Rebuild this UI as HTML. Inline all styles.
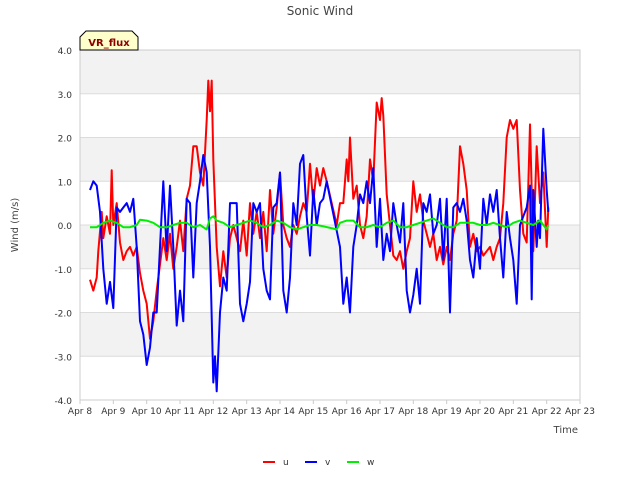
<!DOCTYPE html>
<html><head><meta charset="utf-8"><style>
body{margin:0;background:#fff;font-family:"DejaVu Sans","Liberation Sans",sans-serif;}
</style></head><body>
<svg id="chart" width="640" height="480" xmlns="http://www.w3.org/2000/svg" font-family="DejaVu Sans, Liberation Sans, sans-serif">
<text x="320" y="15" text-anchor="middle" font-size="12" fill="#444">Sonic Wind</text>
<g id="bands"></g><g id="grid"></g><g id="series"></g><g id="axes"></g>
<text transform="translate(18,225) rotate(-90)" text-anchor="middle" font-size="10" fill="#444">Wind (m/s)</text>
<text x="578" y="433" text-anchor="end" font-size="10" fill="#444">Time</text>
<g>
<path d="M80,50 L80,37 L86,31 L132,31 L138,37 L138,50 Z" fill="#ffffcc" stroke="#000" stroke-width="1"/>
<text x="109" y="46" text-anchor="middle" font-size="10" font-weight="bold" fill="#8b0000">VR_flux</text>
</g>
<g id="legend"></g>
</svg>
<script>
const yTicks=[4,3,2,1,0,-1,-2,-3,-4];
const xTickLabels=["Apr 8","Apr 9","Apr 10","Apr 11","Apr 12","Apr 13","Apr 14","Apr 15","Apr 16","Apr 17","Apr 18","Apr 19","Apr 20","Apr 21","Apr 22","Apr 23"];
const uT=[0.3,0.4,0.5,0.55,0.65,0.7,0.8,0.9,0.95,1.0,1.1,1.2,1.3,1.4,1.5,1.6,1.7,1.8,1.9,2.0,2.1,2.2,2.3,2.4,2.5,2.6,2.7,2.8,2.9,3.0,3.1,3.2,3.3,3.4,3.5,3.6,3.7,3.8,3.85,3.9,3.95,4.0,4.1,4.2,4.3,4.4,4.5,4.6,4.7,4.8,4.9,5.0,5.1,5.2,5.3,5.4,5.5,5.6,5.7,5.8,5.9,6.0,6.1,6.2,6.3,6.4,6.5,6.6,6.7,6.8,6.9,7.0,7.1,7.2,7.3,7.4,7.7,7.8,7.9,8.0,8.05,8.1,8.2,8.3,8.4,8.5,8.6,8.7,8.8,8.9,9.0,9.05,9.1,9.2,9.3,9.4,9.5,9.6,9.7,9.8,9.9,10.0,10.1,10.2,10.3,10.4,10.5,10.6,10.7,10.8,10.9,11.0,11.1,11.2,11.3,11.4,11.5,11.6,11.7,11.8,11.9,12.0,12.1,12.2,12.3,12.4,12.5,12.6,12.7,12.8,12.9,13.0,13.1,13.2,13.3,13.4,13.5,13.6,13.7,13.8,13.9,14.0,14.05];
const uV=[-1.25,-1.5,-1.2,-0.6,0.3,-0.3,0.2,-0.2,1.25,0.0,0.5,-0.4,-0.8,-0.6,-0.5,-0.7,-0.5,-1.1,-1.5,-1.8,-2.6,-2.2,-1.5,-0.9,-0.3,-0.8,-0.2,-1.0,-0.5,0.1,-0.6,0.6,0.9,1.8,1.8,1.2,0.9,2.4,3.3,2.6,3.3,1.5,-0.5,-1.4,-0.6,-1.2,-0.3,0.0,-0.3,-0.6,0.1,-0.7,0.5,-0.2,0.3,-0.3,0.3,-0.6,0.8,-0.2,0.4,1.2,0.0,-0.3,-0.5,0.0,-0.2,0.2,0.5,0.3,1.4,0.5,1.3,0.9,1.3,1.0,0.0,0.5,0.5,1.5,1.0,2.0,0.6,0.9,0.0,-0.3,0.2,1.5,1.0,2.8,2.4,2.9,2.5,0.7,0.0,-0.7,-0.8,-0.6,-1.0,-0.6,-0.3,1.0,0.3,0.7,0.1,-0.2,-0.5,-0.2,-0.8,-0.5,-0.9,-0.5,-0.8,-0.2,0.1,1.8,1.4,0.8,-0.5,-0.2,-0.6,-0.5,-0.7,-0.6,-0.5,-0.8,-0.5,-0.3,0.5,2.0,2.4,2.2,2.4,0.8,-0.2,-0.4,2.3,-0.6,1.8,0.5,1.2,-0.5,0.4];
const vT=[0.3,0.4,0.5,0.6,0.7,0.8,0.9,1.0,1.1,1.2,1.3,1.4,1.5,1.6,1.7,1.8,1.9,2.0,2.1,2.2,2.3,2.4,2.5,2.6,2.7,2.8,2.9,3.0,3.1,3.2,3.3,3.4,3.5,3.6,3.7,3.8,3.9,4.0,4.05,4.1,4.2,4.3,4.4,4.5,4.7,4.8,4.9,5.0,5.1,5.2,5.3,5.4,5.5,5.6,5.7,5.8,5.9,6.0,6.1,6.2,6.3,6.4,6.5,6.6,6.7,6.8,6.9,7.0,7.1,7.2,7.3,7.4,7.8,7.9,8.0,8.1,8.2,8.3,8.4,8.5,8.6,8.7,8.8,8.9,9.0,9.1,9.2,9.3,9.4,9.5,9.6,9.7,9.8,9.9,10.0,10.1,10.2,10.3,10.4,10.5,10.6,10.7,10.8,10.9,11.0,11.1,11.2,11.3,11.4,11.5,11.6,11.7,11.8,11.9,12.0,12.1,12.2,12.3,12.4,12.5,12.6,12.7,12.8,12.9,13.0,13.1,13.2,13.3,13.4,13.5,13.55,13.6,13.7,13.75,13.8,13.9,14.0,14.05];
const vV=[0.8,1.0,0.9,0.3,-1.0,-1.8,-1.3,-1.9,0.4,0.3,0.4,0.5,0.3,0.6,-0.5,-2.2,-2.5,-3.2,-2.8,-2.0,-2.0,-0.5,1.0,-0.6,0.9,-0.5,-2.3,-1.5,-2.2,0.6,0.5,-1.2,0.5,1.0,1.6,1.2,-0.5,-3.6,-3.0,-3.8,-2.0,-1.2,-1.5,0.5,0.5,-1.8,-2.2,-1.8,-1.3,0.5,0.3,0.5,-1.0,-1.5,-1.7,0.4,0.5,1.2,-1.5,-2.0,-1.2,0.5,0.0,1.4,1.6,0.2,-0.7,0.8,0.0,0.5,0.6,1.0,-0.5,-1.8,-1.2,-2.0,-0.5,0.0,0.7,0.5,1.0,0.5,1.3,-0.5,0.6,-0.8,-0.2,-0.6,0.5,0.0,-0.4,0.5,-1.5,-2.0,-1.6,-1.0,-1.8,0.5,0.3,0.7,-0.2,0.0,0.6,-0.8,0.6,-2.0,0.4,0.5,0.3,0.6,0.1,-0.8,-1.2,-0.3,-1.0,0.6,0.0,0.7,0.3,0.8,-0.3,-1.2,0.3,-0.3,-0.8,-1.8,0.0,0.2,0.4,0.9,-1.7,0.8,-0.5,0.1,-0.3,2.2,0.8,0.3];
const wT=[0.3,0.5,0.7,0.9,1.1,1.3,1.5,1.7,1.8,2.0,2.2,2.4,2.6,2.8,3.0,3.2,3.4,3.6,3.8,3.9,4.0,4.1,4.3,4.5,4.7,4.9,5.1,5.3,5.5,5.7,5.9,6.1,6.3,6.5,6.7,6.9,7.1,7.3,7.7,7.8,8.0,8.2,8.4,8.6,8.8,9.0,9.2,9.4,9.6,9.8,10.0,10.2,10.4,10.6,10.8,11.0,11.2,11.4,11.6,11.8,12.0,12.2,12.4,12.6,12.8,13.0,13.2,13.4,13.6,13.8,14.0,14.05];
const wV=[-0.05,-0.05,0.05,0.1,0.05,-0.05,-0.05,0.0,0.12,0.1,0.05,-0.05,-0.05,0.0,0.05,0.05,-0.05,0.0,-0.1,0.15,0.2,0.1,0.05,-0.05,0.0,0.05,0.1,0.05,-0.05,0.0,0.1,0.05,-0.05,-0.1,-0.05,0.0,0.0,-0.03,-0.1,0.05,0.1,0.1,-0.05,-0.05,0.0,-0.05,0.05,0.1,-0.05,-0.05,0.0,0.05,0.1,0.15,0.05,-0.05,-0.05,0.05,0.05,0.05,0.0,0.0,0.05,0.0,-0.05,0.05,0.1,0.05,0.0,0.1,-0.1,0.0];
const NS="http://www.w3.org/2000/svg";
const X0=80,X1=580,Y0=50,Y1=400;
const xs=d=>X0+(X1-X0)*d/15;
const ys=v=>Y0+(Y1-Y0)*(4-v)/8;
function mk(tag,attrs,parent){const e=document.createElementNS(NS,tag);for(const k in attrs)e.setAttribute(k,attrs[k]);parent.appendChild(e);return e;}
const bands=document.getElementById('bands'),grid=document.getElementById('grid'),axes=document.getElementById('axes'),series=document.getElementById('series'),legend=document.getElementById('legend');
mk('rect',{x:X0,y:Y0,width:X1-X0,height:Y1-Y0,fill:'#fff'},bands);
for(let i=0;i<8;i+=2){const b=mk('rect',{x:X0,y:ys(4-i),width:X1-X0,height:ys(3-i)-ys(4-i),fill:'#f2f2f2'},bands);

}
yTicks.forEach(v=>{const l=mk('line',{x1:X0,x2:X1,y1:ys(v),y2:ys(v),stroke:'#dcdcdc','stroke-width':1},grid);


const t=mk('text',{x:X0-8,y:ys(v)+4,'text-anchor':'end','font-size':9,fill:'#333'},axes);t.textContent=v.toFixed(1);

});
xTickLabels.forEach((s,i)=>{const t=mk('text',{x:xs(i),y:414,'text-anchor':'middle','font-size':9,fill:'#333'},axes);t.textContent=s;


mk('line',{x1:xs(i),x2:xs(i),y1:Y1,y2:Y1+4,stroke:'#ccc'},axes);});
mk('rect',{x:X0,y:Y0,width:X1-X0,height:Y1-Y0,fill:'none',stroke:'#ccc'},axes);
function line(T,V,color,name){const p=mk('path',{d:T.map((t,i)=>(i?'L':'M')+xs(t).toFixed(1)+','+ys(V[i]).toFixed(1)).join(''),fill:'none',stroke:color,'stroke-width':2,'stroke-linejoin':'round'},series);

}
line(uT,uV,'#ff0000','u-series');
line(vT,vV,'#0000ff','v-series');
line(wT,wV,'#00ee00','w-series');
[['u','#ff0000',263],['v','#0000ff',305],['w','#00ee00',347]].forEach(([n,c,x])=>{const g=mk('g',{},legend);


mk('line',{x1:x,x2:x+12,y1:462,y2:462,stroke:c,'stroke-width':2},g);
const t=mk('text',{x:x+20,y:465,'font-size':9,fill:'#333'},g);t.textContent=n;});
</script>
</body></html>
